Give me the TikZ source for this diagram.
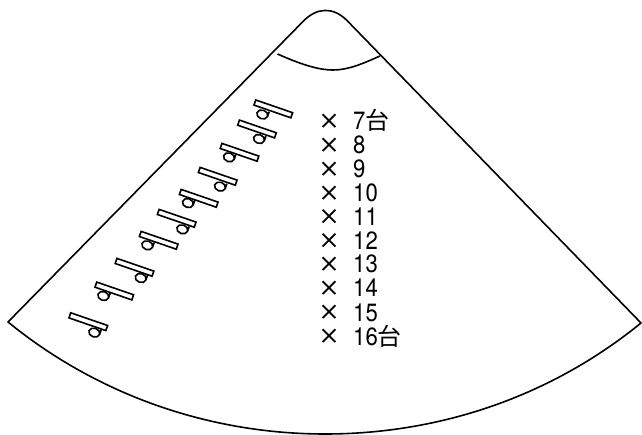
\documentclass[tikz,border=0pt]{standalone}
\usepackage{fontspec}
\setmainfont{TeX Gyre Heros}
\newfontfamily\cjkfont{Noto Sans CJK JP}
\newfontfamily\crossfont[FakeBold=1]{Noto Sans CJK JP}
\newfontfamily\digitfont[FakeStretch=0.885]{TeX Gyre Heros}
\tikzset{
  outline/.style={line width=1.6pt,line join=round},
  sym/.style={line width=1.6pt},
  countlabel/.style={anchor=base west,inner sep=0pt,font=\fontsize{25}{26}\selectfont\digitfont},
  crosslabel/.style={anchor=base,inner sep=0pt,font=\fontsize{21}{24}\selectfont\crossfont}
}
\newcommand{\tai}{{\fontsize{24}{24}\selectfont\cjkfont 台}}
\begin{document}
\begin{tikzpicture}[x=1pt,y=-1pt]
\useasboundingbox (0,0) rectangle (642,435);
% outline
\draw[outline] (8,322) -- (303,21.5) .. controls (317,7) and (333,7) .. (346.5,20)
  -- (641,323) .. controls (551.4,396) and (440.6,434) .. (325,434) .. controls (209.4,434) and (97.6,395) .. (8,322) -- cycle;
\draw[outline] (277.5,54) .. controls (300,64) and (318,70) .. (333,70) .. controls (348,70) and (362,64) .. (380,56);
% symbols
\foreach \cx/\cy/\px/\py in {
  88.3/321.7/94.3/332.6, 114.3/291/103.3/296, 134.5/267.3/140.7/278,
  158.7/240.3/147.3/245.3, 176.7/218.3/182.3/229.3, 198.7/198.3/187.9/203.1,
  217.7/176.3/220/186.6, 239.5/152.3/229/157.3, 257/129/259/139, 273.3/108.9/262.3/114.5}{
  \draw[sym,shift={(\cx,\cy)},rotate=-19] (-19.5pt,-2.7pt) rectangle (19.5pt,2.7pt);
  \draw[sym,shift={(\px,\py)},rotate=-19] (0,0) ellipse[x radius=5.6pt,y radius=4.4pt] (5.6pt,0) -- (5.6pt,5pt);
}
% labels
\foreach \n/\y/\t/\u in {a/130/7/\tai,b/154/8/,c/178/9/,d/202/10/,e/225.5/11/,f/249.5/12/,g/273/13/,h/297/14/,i/321/15/,j/345/16/\tai}{
  \node[crosslabel] (x\n) at (329,\y-1.5) {×};
  \node[countlabel] (n\n) at (353,\y) {\t\u};
}
\end{tikzpicture}
\end{document}
